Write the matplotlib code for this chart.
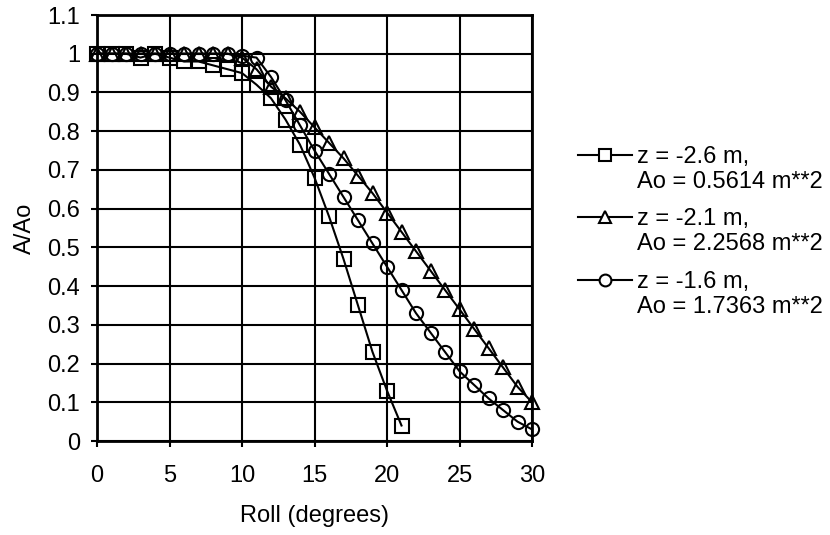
import numpy as np
import matplotlib
matplotlib.use("Agg")
import matplotlib.pyplot as plt
from matplotlib.lines import Line2D

plt.rcParams['font.family'] = ['Liberation Sans', 'DejaVu Sans']

# roll angle (degrees) and area ratio A/Ao
roll_sq = list(range(0, 22))
ratio_sq = [1, 1, 1, 0.99, 1, 0.99, 0.98, 0.98, 0.97, 0.96, 0.95, 0.92,
            0.885, 0.83, 0.765, 0.68, 0.58, 0.47, 0.35, 0.23, 0.13, 0.04]

roll_tri = list(range(0, 31))
ratio_tri = [1, 1, 1, 1, 1, 1, 1, 1, 1, 1, 0.99, 0.96, 0.915, 0.885, 0.85,
             0.81, 0.77, 0.73, 0.685, 0.64, 0.59, 0.54, 0.49, 0.44, 0.39,
             0.34, 0.29, 0.24, 0.19, 0.14, 0.10]

roll_circ = list(range(0, 31))
ratio_circ = [1, 1, 1, 1, 1, 1, 1, 1, 1, 1, 0.995, 0.99, 0.94, 0.88, 0.815,
              0.75, 0.69, 0.63, 0.57, 0.51, 0.45, 0.39, 0.33, 0.28, 0.23,
              0.18, 0.145, 0.11, 0.08, 0.05, 0.03]

names = ["z = -2.6 m,", "z = -2.1 m,", "z = -1.6 m,"]
areas = ["Ao = 0.5614 m**2", "Ao = 2.2568 m**2", "Ao = 1.7363 m**2"]
markers = ['s', '^', 'o']

W, H = 830, 535
FS = 17
fig = plt.figure(figsize=(W / 100, H / 100), dpi=100)
ax = fig.add_axes([97 / W, 1 - 441 / H, 435 / W, 426 / H])

mk = dict(color='black', lw=1.5, markerfacecolor='none', markeredgecolor='black',
          markeredgewidth=1.5, markersize=9.5)
series = [(roll_sq, ratio_sq), (roll_tri, ratio_tri), (roll_circ, ratio_circ)]
for (xs, ys), m in zip(series, markers):
    ax.plot(xs, ys, marker=m, clip_on=False, zorder=3, **mk)

ax.set_xlim(0, 30)
ax.set_ylim(0, 1.1)
ax.set_xticks(np.arange(0, 31, 5))
ax.set_yticks(np.arange(0, 1.11, 0.1))
ax.set_yticklabels(['0', '0.1', '0.2', '0.3', '0.4', '0.5', '0.6', '0.7',
                    '0.8', '0.9', '1', '1.1'])
ax.grid(True, color='black', lw=1.5)
ax.set_axisbelow(True)
for s in ax.spines.values():
    s.set_linewidth(2)
ax.tick_params(labelsize=FS, width=1.5, length=4.5, direction='out')
ax.tick_params(axis='x', pad=13)
ax.tick_params(axis='y', pad=7.5)
ax.set_xlabel("Roll (degrees)", fontsize=FS, labelpad=13)
ax.set_ylabel("A/Ao", fontsize=FS, labelpad=8)

# legend to the right, handle beside the first line of each label
base = [163, 225, 288]
for m, n, a, b in zip(markers, names, areas, base):
    yh = 1 - (b - 8) / H
    fig.add_artist(Line2D([578 / W, 632 / W], [yh, yh],
                          transform=fig.transFigure, color='black', lw=1.5))
    fig.add_artist(Line2D([605 / W], [yh], transform=fig.transFigure,
                          marker=m, markersize=8.5, markerfacecolor='white',
                          markeredgecolor='black', markeredgewidth=1.5))
    fig.text(637 / W, 1 - b / H, n, fontsize=FS, va='baseline', ha='left')
    fig.text(637 / W, 1 - (b + 25) / H, a, fontsize=FS, va='baseline', ha='left')

fig.savefig("out.png", dpi=100)
